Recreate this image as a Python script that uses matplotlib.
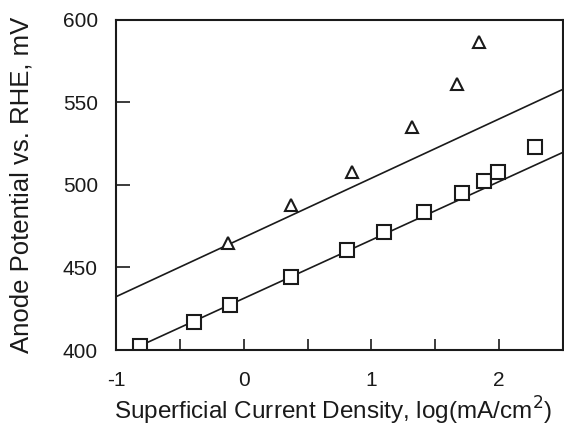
import matplotlib.pyplot as plt
import numpy as np

# squares (lower series)
sq_x = [-0.81, -0.39, -0.11, 0.37, 0.81, 1.10, 1.41, 1.71, 1.88, 1.99, 2.28]
sq_y = [402.6, 416.8, 427.0, 444.2, 460.6, 471.7, 483.5, 495.4, 502.6, 507.7, 523.2]

# triangles (upper series)
tri_x = [-0.12, 0.37, 0.85, 1.32, 1.67, 1.84]
tri_y = [464.7, 487.9, 508.1, 535.3, 561.0, 586.9]

# straight lines drawn through the data
upper_line_x = [-1.0, 2.5]
upper_line_y = [432.3, 558.0]
lower_line_x = [-0.81, 2.5]
lower_line_y = [402.6, 519.8]


def main():
    plt.rcParams['font.family'] = ['Liberation Sans', 'DejaVu Sans']
    ink = '#1a1a1a'
    fig = plt.figure(figsize=(5.64, 4.26), dpi=100)
    ax = fig.add_axes([116 / 564, 1 - 350 / 426, (563 - 116) / 564, (350 - 20) / 426])

    ax.plot(upper_line_x, upper_line_y, color=ink, lw=1.2)
    ax.plot(lower_line_x, lower_line_y, color=ink, lw=1.2)
    ax.plot(sq_x, sq_y, ls='none', marker='s', ms=9.5, mfc='white', mec=ink, mew=1.5)
    ax.plot(tri_x, tri_y, ls='none', marker='^', ms=8.5, mfc='white', mec=ink, mew=1.5)

    ax.set_xlim(-1, 2.5)
    ax.set_ylim(400, 600)
    ax.set_xticks(np.arange(-1, 2.51, 0.5))
    ax.set_xticklabels(['-1', '', '0', '', '1', '', '2', ''])
    ax.set_yticks([400, 450, 500, 550, 600])
    ax.tick_params(direction='in', length=8, width=1.2, labelsize=15, colors=ink)
    ax.tick_params(axis='x', pad=15)
    ax.tick_params(axis='y', length=10, pad=13)
    for sp in ax.spines.values():
        sp.set_linewidth(1.5)
        sp.set_color(ink)

    ax.set_xlabel('Superficial Current Density, log(mA/cm$^2$)', fontsize=17.5, color=ink)
    ax.set_ylabel('Anode Potential vs. RHE, mV', fontsize=18.5, color=ink)
    ax.xaxis.set_label_coords((333 - 116) / 447, -(395 - 350) / 330)
    ax.yaxis.set_label_coords(-(116 - 34) / 447, (350 - 185) / 330)

    fig.savefig('out.png', dpi=100)


if __name__ == '__main__':
    main()
